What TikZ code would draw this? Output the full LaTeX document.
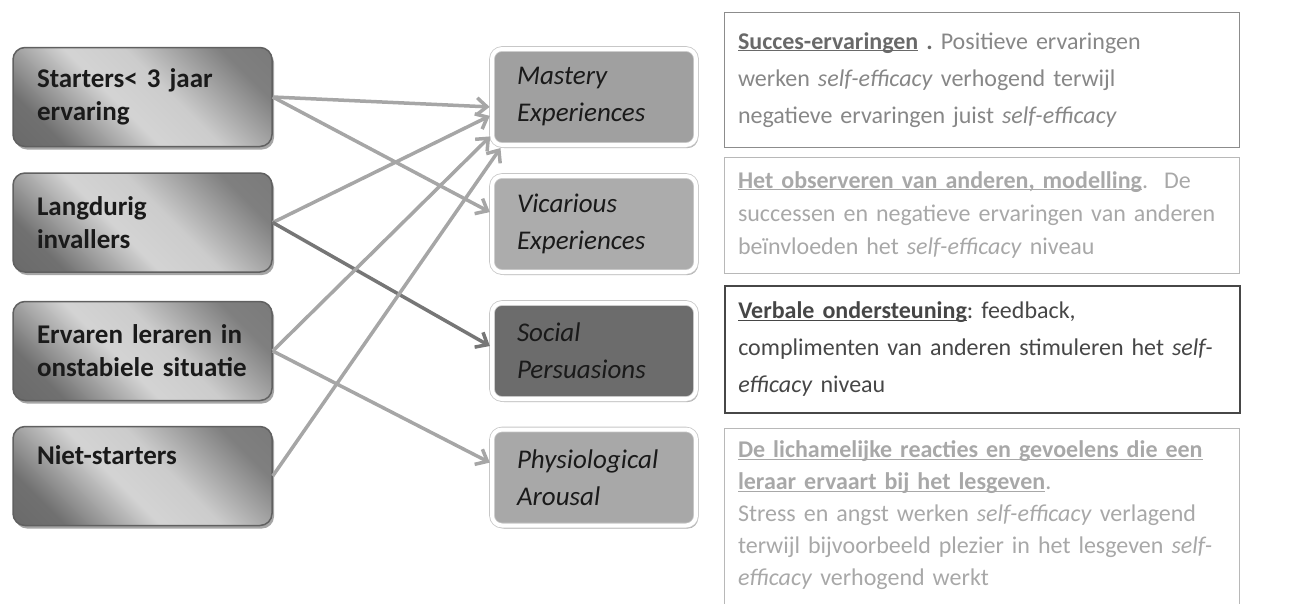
\documentclass[tikz,border=0pt]{standalone}
\usepackage{fontspec}
\setmainfont{Carlito}
\usepackage{tikz}
\usetikzlibrary{arrows.meta, positioning, calc, shadows}
\definecolor{mydark}{RGB}{26,26,26}
\definecolor{myedge}{RGB}{96,96,96}
\definecolor{mylink}{RGB}{166,166,166}
\definecolor{mylinkdark}{RGB}{118,118,118}
\definecolor{mymastery}{RGB}{160,160,160}
\definecolor{myvicar}{RGB}{172,172,172}
\definecolor{mysocial}{RGB}{108,108,108}
\definecolor{myphysio}{RGB}{168,168,168}
\definecolor{mytxtmid}{RGB}{135,135,135}
\definecolor{mytxttitle}{RGB}{105,105,105}
\definecolor{mytxtlight}{RGB}{168,168,168}
\definecolor{mytxtdark}{RGB}{70,70,70}
\pgfdeclareverticalshading{groupshade}{100bp}{color(0bp)=(black!62); color(25bp)=(black!56);
  color(44bp)=(black!17); color(56bp)=(black!20); color(75bp)=(black!50); color(100bp)=(black!55)}
\newcommand{\undl}[1]{\underline{\smash{#1}}}
\frenchspacing
\tikzset{
  group/.style={rectangle, rounded corners=12pt, draw=myedge, line width=1.5pt,
    shading=groupshade, shading angle=-45,
    minimum width=259pt, minimum height=99pt, text width=211pt, inner xsep=24pt,
    align=left, font=\fontsize{27}{33}\selectfont\bfseries, text=mydark,
    drop shadow={shadow xshift=2pt, shadow yshift=-3pt, fill=black, opacity=0.35}},
  source/.style={rectangle, rounded corners=10pt, draw=black!22, double=white,
    double distance=4pt, line width=0.8pt,
    minimum width=204pt, minimum height=96pt, text width=154pt, inner xsep=25pt,
    align=left, font=\fontsize{27}{37}\selectfont\itshape, text=mydark,
    drop shadow={shadow xshift=2pt, shadow yshift=-3pt, fill=black, opacity=0.3}},
  note/.style={rectangle, anchor=north west, minimum width=515pt,
    text width=488pt, inner xsep=13.5pt, align=left, line width=1pt},
  link/.style={-{Straight Barb[length=10pt,width=17pt]}, line width=3.5pt,
    color=mylink, shorten >=2pt},
  darklink/.style={link, color=mylinkdark}
}

\begin{document}
\begin{tikzpicture}[x=1pt, y=-1pt]
  \useasboundingbox (0,0) rectangle (1303,603);
  \node[group] (starters) at (142.5,97) {Starters< 3 jaar\\ervaring};
  \node[group] (langdurig) at (142.5,222.5) {Langdurig\\invallers};
  \node[group] (ervaren) at (142.5,351) {Ervaren leraren in\\onstabiele situatie};
  \node[group] (niet) at (142.5,476) {Niet-starters\\\strut};

  \node[source, fill=mymastery] (mastery) at (594,97) {Mastery\\Experiences};
  \node[source, fill=myvicar] (vicarious) at (594,224) {Vicarious\\Experiences};
  \node[source, fill=mysocial] (social) at (594,351) {Social\\Persuasions};
  \node[source, fill=myphysio] (physio) at (594,477.5) {Physiological\\Arousal};

  \draw[link] (starters.east) -- ([yshift=-10pt]mastery.west);
  \draw[link] (starters.east) -- ([yshift=11pt]vicarious.west);
  \draw[link] (langdurig.east) -- ([yshift=-18pt]mastery.west);
  \draw[darklink] (langdurig.east) -- ([yshift=4pt]social.west);
  \draw[link] (ervaren.east) -- ([yshift=-38pt]mastery.west);
  \draw[link] (ervaren.east) -- ([yshift=14pt]physio.west);
  \draw[link] (niet.east) -- ([xshift=10pt,yshift=-1pt]mastery.south west);

  \node[note, draw=black!45, text=mytxtmid, minimum height=135pt,
    font=\fontsize{24}{37}\selectfont] (succes) at (724,12)
    {\textcolor{mytxttitle}{\textbf{\undl{Succes-ervaringen}} \textbf{.}} Positieve ervaringen\\
     werken \textit{self-efficacy} verhogend terwijl\\
     negatieve ervaringen juist \textit{self-efficacy}};
  \node[note, draw=black!28, text=mytxtlight, minimum height=116pt,
    font=\fontsize{24}{33}\selectfont] (observeren) at (724,157)
    {\textbf{\undl{Het observeren van anderen, modelling}}.~ De\\
     successen en negatieve ervaringen van anderen\\
     beïnvloeden het \textit{self-efficacy} niveau};
  \node[note, draw=black!72, line width=1.5pt, text=mytxtdark, minimum height=127pt,
    font=\fontsize{24}{37}\selectfont] (verbaal) at (724,285)
    {\textbf{\undl{Verbale ondersteuning}}: feedback,\\
     complimenten van anderen stimuleren het \textit{self-}\\
     \textit{efficacy} niveau};
  \node[note, draw=black!28, text=mytxtlight, minimum height=190pt,
    font=\fontsize{24}{32}\selectfont] (lichaam) at (724,428)
    {\textbf{\undl{De lichamelijke reacties en gevoelens die een}}\\
     \textbf{\undl{leraar ervaart bij het lesgeven}}.\\
     Stress en angst werken \textit{self-efficacy} verlagend\\
     terwijl bijvoorbeeld plezier in het lesgeven \textit{self-}\\
     \textit{efficacy} verhogend werkt};
\end{tikzpicture}
\end{document}
